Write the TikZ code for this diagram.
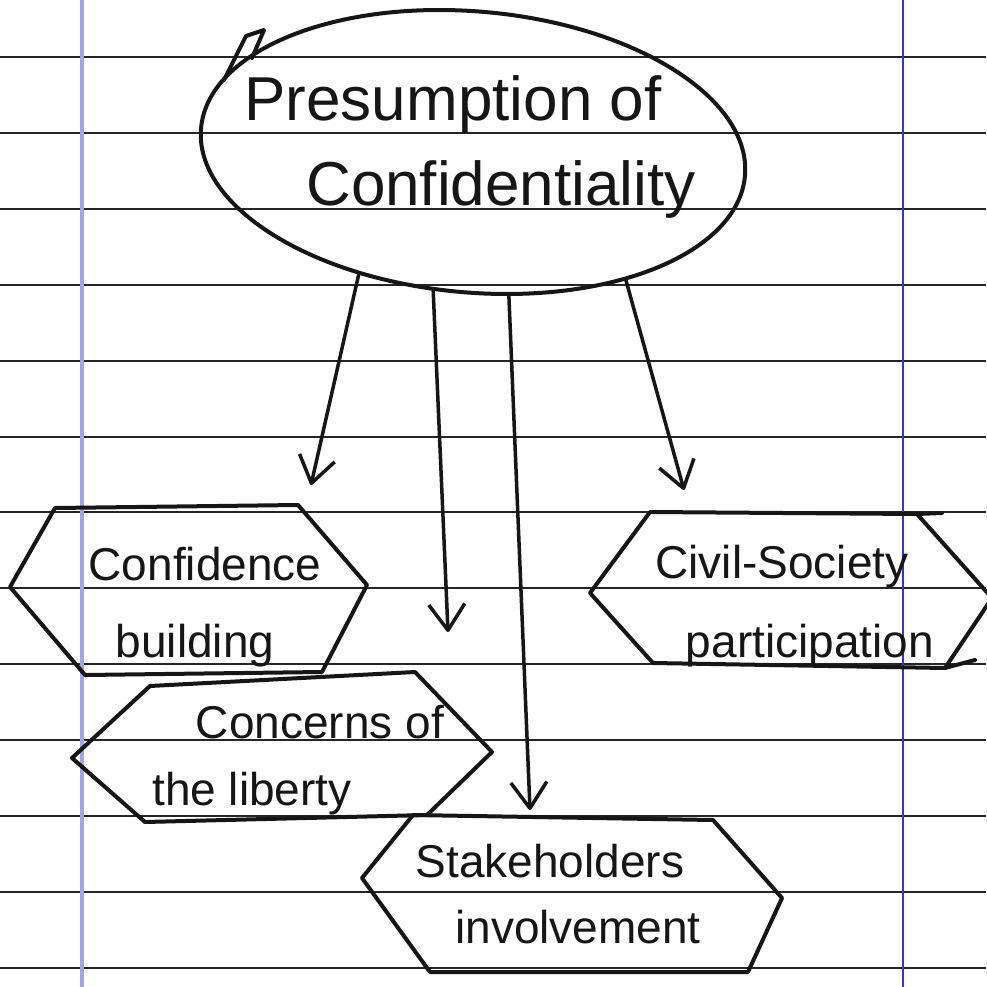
\documentclass[tikz,border=0pt]{standalone}
\usepackage{fontspec}
\setmainfont{Liberation Sans}
\usetikzlibrary{arrows.meta,shapes.geometric}
\definecolor{ink}{HTML}{161616}
\definecolor{rulecol}{HTML}{262626}
\definecolor{marginl}{HTML}{A3A3EE}
\definecolor{marginr}{HTML}{3434D4}
\begin{document}
\begin{tikzpicture}[x=1pt,y=-1pt,
  pen/.style={draw=ink, line width=4pt, line join=round, line cap=round},
  arrowline/.style={draw=ink, line width=3.5pt, line cap=round,
    -{Straight Barb[length=26pt,width=36pt,line join=round]}},
  ruled/.style={draw=rulecol, line width=2pt},
  bigtext/.style={anchor=base, inner sep=0pt, text=ink, font=\fontsize{62}{70}\selectfont},
  boxtext/.style={anchor=base, inner sep=0pt, text=ink, font=\fontsize{46}{52}\selectfont},
]
% paper
\fill[white] (0,0) rectangle (986,987);
\useasboundingbox (0,0) rectangle (986,987);
\foreach \k in {0,...,12}
  \draw[ruled] (0,{57+75.9*\k}) -- (986,{57+75.9*\k});
\draw[marginl, line width=4pt] (82,0) -- (82,987);
\draw[marginr, line width=2.5pt] (903,0) -- (903,987);

% central idea
\node[pen, ellipse, inner sep=0pt, minimum width=546pt, minimum height=281pt, rotate=-5]
  (presumption) at (473,152) {};
\draw[pen] (224,80) -- (246,36) -- (264,30) -- (252,58);
\node[bigtext] (pres1) at (453,121) {Presumption of};
\node[bigtext] (pres2) at (501,205) {Confidentiality};

% arrow tips
\coordinate (t1) at (311,485);
\coordinate (t2) at (448,632);
\coordinate (t3) at (530,810);
\coordinate (t4) at (684,490);
\draw[arrowline] (presumption.-128) -- (t1);
\draw[arrowline] (presumption.-101) -- (t2);
\draw[arrowline] (presumption.-71) -- (t3);
\draw[arrowline] (presumption.-35) -- (t4);

% Confidence building
\draw[pen] (55,508) -- (298,505) -- (367,585) -- (322,672) -- (85,675) -- (10,587) -- cycle;
\node[boxtext] (cb1) at (205,580) {Confidence};
\node[boxtext] (cb2) at (195,657) {building};

% Concerns of the liberty
\draw[pen] (150,686) -- (415,672) -- (492,752) -- (427,815) -- (145,822) -- (72,758) -- cycle;
\node[boxtext] (cl1) at (320,738) {Concerns of};
\node[boxtext] (cl2) at (252,805) {the liberty};

% Stakeholders involvement
\draw[pen] (413,815) -- (713,820) -- (782,898) -- (748,972) -- (430,972) -- (362,878) -- cycle;
\node[boxtext] (si1) at (550,877) {Stakeholders};
\node[boxtext] (si2) at (578,943) {involvement};

% Civil-Society participation
\draw[pen] (650,512) -- (917,514) -- (992,598) -- (945,668) -- (653,663) -- (590,593) -- cycle;
\draw[pen] (917,514) -- (942,513);
\draw[pen] (945,668) -- (975,660);
\node[boxtext] (cs1) at (782,578) {Civil-Society};
\node[boxtext] (cs2) at (810,657) {participation};
\end{tikzpicture}
\end{document}
